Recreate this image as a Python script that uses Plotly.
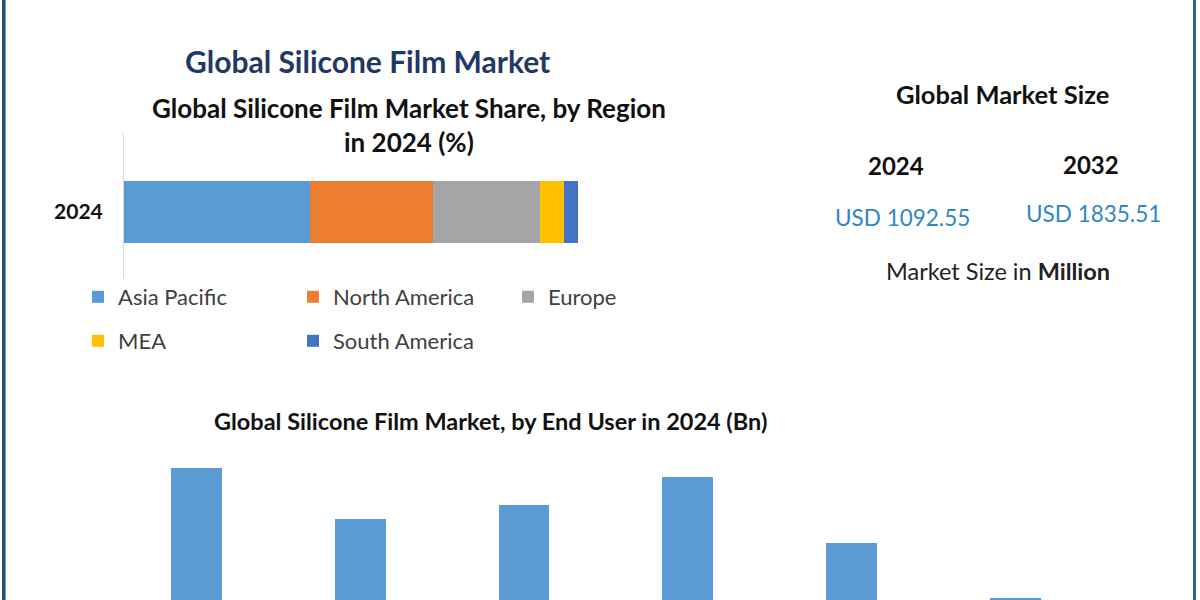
import plotly.graph_objects as go

W, H = 1200, 600

# ---------------- data ----------------
regions = ["Asia Pacific", "North America", "Europe", "MEA", "South America"]
region_share = [41.0, 27.1, 23.6, 5.3, 3.0]
region_colors = ["#5b9bd5", "#ed7d31", "#a5a5a5", "#ffc000", "#4472c4"]
share_year = ["2024"]

end_users = ["Electronics", "Automotive", "Medical", "Packaging", "Industrial", "Others"]
end_user_value = [0.280, 0.185, 0.211, 0.263, 0.141, 0.040]

size_years = ["2024", "2032"]
size_values = ["USD 1092.55", "USD 1835.51"]

FONT = "Lato"


def px(x):
    return x / W


def py(y):
    return 1 - y / H


fig = go.Figure()

# stacked region share bar
for i, (name, val, col) in enumerate(zip(regions, region_share, region_colors)):
    fig.add_trace(go.Bar(
        x=[val], y=share_year, orientation="h", name=name,
        marker=dict(color=col, line=dict(width=0)),
        xaxis="x", yaxis="y",
        legend="legend" if i < 3 else "legend2",
        hoverinfo="skip",
    ))

# end-user bars
fig.add_trace(go.Bar(
    x=end_users, y=end_user_value, marker=dict(color="#5b9bd5", line=dict(width=0)),
    xaxis="x2", yaxis="y2", showlegend=False, hoverinfo="skip", width=0.31,
))

legend_font = dict(family=FONT, size=22, color="#404040")

fig.update_layout(
    width=W, height=H,
    margin=dict(l=0, r=0, t=0, b=0),
    paper_bgcolor="white", plot_bgcolor="white",
    barmode="stack",
    bargap=0.572,
    showlegend=True,
    legend=dict(orientation="h", x=px(78), y=py(297), xanchor="left", yanchor="middle",
                font=legend_font, entrywidth=170, traceorder="normal",
                bgcolor="rgba(0,0,0,0)"),
    legend2=dict(orientation="h", x=px(78), y=py(341), xanchor="left", yanchor="middle",
                 font=legend_font, entrywidth=170, traceorder="normal",
                 bgcolor="rgba(0,0,0,0)"),
    xaxis=dict(domain=[px(124), px(578)], range=[0, 100], visible=False, fixedrange=True),
    yaxis=dict(domain=[py(278), py(133)], type="category", range=[-0.455, 0.545],
               showline=True, linecolor="#d9d9d9", linewidth=1, ticks="",
               showgrid=False, zeroline=False, ticklabelstandoff=16,
               tickfont=dict(family=FONT, size=21, color="#111111", weight="bold")),
    xaxis2=dict(domain=[px(114.6), px(1097)], anchor="y2", showticklabels=False,
                showline=False, showgrid=False, zeroline=False, ticks=""),
    yaxis2=dict(domain=[0, py(440)], anchor="x2", range=[0.0367, 0.3305],
                visible=False),
)

ann = []


def text(x, y, s, size, color="#111111", bold=False, family=FONT):
    ann.append(dict(x=px(x), y=py(y), xref="paper", yref="paper", text=s, showarrow=False,
                    xanchor="center", yanchor="middle",
                    font=dict(family=family, size=size, color=color,
                              weight="bold" if bold else "normal")))


text(367, 61, "Global Silicone Film Market", 30, "#1f3864", True)
text(409, 108, "Global Silicone Film Market Share, by Region", 26, "#111111", True)
text(409, 142, "in 2024 (%)", 26, "#111111", True)
text(1002, 94, "Global Market Size", 25.5, "#111111", True)
text(896, 166, size_years[0], 24, "#111111", True)
text(1091, 164, size_years[1], 24, "#111111", True)
text(902, 217, size_values[0], 22.5, "#2f86c6", False)
text(1093, 213, size_values[1], 22.5, "#2f86c6", False)
text(998, 271, "Market Size in <b>Million</b>", 23.5, "#222222", False)
text(490, 421, "Global Silicone Film Market, by End User in 2024 (Bn)", 23.5, "#111111", True)

fig.update_layout(annotations=ann)

# frame lines
fig.add_shape(type="line", xref="paper", yref="paper", x0=px(3.5), x1=px(3.5), y0=0, y1=1,
              line=dict(color="#2c4d6e", width=3))
fig.add_shape(type="line", xref="paper", yref="paper", x0=px(5.5), x1=px(5.5), y0=0, y1=1,
              line=dict(color="#7aa7d6", width=1))
fig.add_shape(type="line", xref="paper", yref="paper", x0=px(1194.5), x1=px(1194.5), y0=0, y1=1,
              line=dict(color="#3a5f84", width=3))

fig.write_html("out.html")
